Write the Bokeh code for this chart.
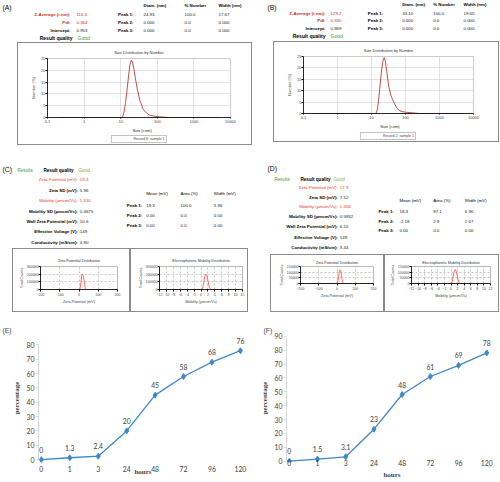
from bokeh.plotting import figure
from bokeh.models import (Range1d, FixedTicker, PrintfTickFormatter, Legend, LegendItem, Spacer)
from bokeh.layouts import row, column
from bokeh.embed import file_html
from bokeh.resources import INLINE
from bokeh.core.properties import value

# ---------------- data ----------------
# (A)/(B) size distribution by number
size_A_nm = [0.2, 11, 12, 13.5, 15, 16.5, 18, 19.5, 21, 23, 25, 28, 33, 41, 50, 62, 80, 115, 200, 5000]
size_A_pct = [0, 0, 1.5, 6, 12, 18, 22.5, 24.3, 23.5, 20.5, 17, 12.5, 7.5, 3.5, 2, 1, 0.6, 0.3, 0, 0]
size_B_nm = [0.2, 13.5, 15, 16.5, 18, 20, 22, 23.5, 25.5, 28, 32, 37, 45, 55, 65, 80, 110, 160, 250, 5000]
size_B_pct = [0, 0, 2, 7, 13, 19.5, 23.5, 24.5, 23, 18.5, 12, 8, 5, 2.5, 1.3, 0.8, 0.5, 0.3, 0, 0]

size_info_labels = ["Z-Average (r.nm):", "PdI:", "Intercept:"]
A_info_values = ["116.6", "0.364", "0.953"]
B_info_values = ["129.2", "0.330", "0.969"]
size_peak_headers = ["Diam. (nm)", "% Number", "Width (nm)"]
peak_labels = ["Peak 1:", "Peak 2:", "Peak 3:"]
A_peak_diam = ["24.93", "0.000", "0.000"]
A_peak_number = ["100.0", "0.0", "0.0"]
A_peak_width = ["17.67", "0.000", "0.000"]
B_peak_diam = ["33.10", "0.000", "0.000"]
B_peak_number = ["100.0", "0.0", "0.0"]
B_peak_width = ["19.65", "0.000", "0.000"]

# (C)/(D) zeta potential
zeta_info_labels = ["Zeta Potential (mV):", "Zeta SD (mV):", "Mobility (µmcm/Vs):",
                    "Mobility SD (µmcm/Vs):", "Wall Zeta Potential (mV):",
                    "Effective Voltage (V):", "Conductivity (mS/cm):"]
C_info_values = ["19.3", "5.96", "1.510", "0.4675", "10.6", "149", "4.80"]
D_info_values = ["17.9", "7.52", "1.406", "0.5832", "6.10", "149", "3.44"]
zeta_peak_headers = ["Mean (mV)", "Area (%)", "Width (mV)"]
C_peak_mean = ["19.3", "0.00", "0.00"]
C_peak_area = ["100.0", "0.0", "0.0"]
C_peak_width = ["5.96", "0.00", "0.00"]
D_peak_mean = ["18.3", "-2.18", "0.00"]
D_peak_area = ["97.1", "2.9", "0.0"]
D_peak_width = ["6.96", "2.67", "0.00"]

zeta_C_mV = [-150, 2, 6, 10, 14, 18, 22, 26, 30, 34, 38, 150]
zeta_C_counts = [0, 0, 20000, 90000, 175000, 200000, 185000, 120000, 50000, 10000, 0, 0]
mob_C = [-11, 0.2, 0.5, 0.8, 1.1, 1.4, 1.7, 2.0, 2.3, 2.6, 2.9, 11]
mob_C_counts = [0, 0, 20000, 90000, 175000, 200000, 185000, 120000, 50000, 10000, 0, 0]
zeta_D_mV = [-150, -4, -2, 0, 4, 8, 12, 16, 20, 24, 28, 32, 36, 40, 150]
zeta_D_counts = [0, 0, 3000, 0, 10000, 50000, 100000, 122000, 115000, 80000, 35000, 10000, 2000, 0, 0]
mob_D = [-11, -0.3, -0.17, 0, 0.3, 0.6, 0.9, 1.2, 1.5, 1.8, 2.1, 2.4, 2.7, 3.0, 11]
mob_D_counts = [0, 0, 3000, 0, 10000, 50000, 100000, 122000, 115000, 80000, 35000, 10000, 2000, 0, 0]

# (E)/(F) release
hours_labels = ["0", "1", "3", "24", "48", "72", "96", "120"]
release_E = [0, 1.3, 2.4, 20, 45, 58, 68, 76]
release_F = [0, 1.5, 3.1, 23, 48, 61, 69, 78]

# ---------------- styles ----------------
FONT = "Liberation Sans"
SERIF = "Liberation Serif"
RED = "#c8302a"
BRIGHT_RED = "#e83a30"
GREEN = "#3c9a3c"
LIGHT_GREEN = "#7ab648"
CURVE_RED = "#b83c3c"
ZETA_RED = "#ff4a4a"
BLUE = "#3f88c8"
BOX_CSS = ":host { box-shadow: inset 0 0 0 1px #8c8c8c; }"
FS = "4.4px"


def blank(w, h, xr, yr, fill="white"):
    p = figure(width=w, height=h, x_range=Range1d(*xr), y_range=Range1d(*yr),
               output_backend="svg", toolbar_location=None,
               x_axis_location=None, y_axis_location=None, min_border=0,
               border_fill_color=fill, background_fill_color=fill)
    p.grid.visible = False
    p.outline_line_color = None
    return p


def txt(p, xs, ys, texts, size, color="#000000", bold=False, align="left", font=FONT):
    p.text(x=xs, y=ys, text=texts, text_font=value(font), text_font_size=size,
           text_color=color, text_font_style="bold" if bold else "normal",
           text_align=align, text_baseline="middle")


def size_header(p, tag, tag_xy, lab_r, val_l, row_ys, rq_r, rq_y, peak_r, col_ls, head_y,
                info_vals, pk_cols):
    txt(p, [tag_xy[0]], [tag_xy[1]], [tag], "6.8px")
    txt(p, [lab_r] * 2, row_ys[:2], size_info_labels[:2], FS, color=RED, bold=True, align="right")
    txt(p, [lab_r], row_ys[2:], size_info_labels[2:], FS, bold=True, align="right")
    txt(p, [val_l] * 2, row_ys[:2], info_vals[:2], FS, color=RED)
    txt(p, [val_l], row_ys[2:], info_vals[2:], FS, color="#222222")
    txt(p, [rq_r], [rq_y], ["Result quality"], "5px", bold=True, align="right")
    txt(p, [rq_r + 5], [rq_y], ["Good"], "5px", color=GREEN)
    txt(p, [peak_r] * 3, row_ys, peak_labels, FS, bold=True, align="right")
    txt(p, col_ls, [head_y] * 3, size_peak_headers, FS, bold=True)
    for cl, col in zip(col_ls, pk_cols):
        txt(p, [cl] * 3, row_ys, col, FS, color="#222222")


def zeta_header(p, tag, tag_xy, res_xy, rq_l, good_l, lab_r, val_l, row_ys, peak_r, peak_ys,
                col_ls, head_y, info_vals, pk_cols):
    txt(p, [tag_xy[0]], [tag_xy[1]], [tag], "6.8px")
    txt(p, [res_xy[0]], [res_xy[1]], ["Results"], "4.6px", color=GREEN)
    txt(p, [rq_l], [res_xy[1]], ["Result quality"], "4.6px", bold=True)
    txt(p, [good_l], [res_xy[1]], ["Good"], "4.6px", color=LIGHT_GREEN)
    red_i = [0, 2]
    blk_i = [1, 3, 4, 5, 6]
    txt(p, [lab_r] * 2, [row_ys[i] for i in red_i], [zeta_info_labels[i] for i in red_i],
        FS, color=BRIGHT_RED, align="right")
    txt(p, [val_l] * 2, [row_ys[i] for i in red_i], [info_vals[i] for i in red_i],
        FS, color=BRIGHT_RED)
    txt(p, [lab_r] * 5, [row_ys[i] for i in blk_i], [zeta_info_labels[i] for i in blk_i],
        FS, bold=True, align="right")
    txt(p, [val_l] * 5, [row_ys[i] for i in blk_i], [info_vals[i] for i in blk_i],
        FS, color="#222222")
    txt(p, col_ls, [head_y] * 3, zeta_peak_headers, FS)
    txt(p, [peak_r] * 3, peak_ys, peak_labels, FS, bold=True, align="right")
    for cl, col in zip(col_ls, pk_cols):
        txt(p, [cl] * 3, peak_ys, col, FS, color="#222222")


def style_small_axes(p, fs_tick, fs_lab):
    for ax in list(p.xaxis) + list(p.yaxis):
        ax.major_label_text_font_size = fs_tick
        ax.major_label_text_font = FONT
        ax.axis_label_text_font_size = fs_lab
        ax.axis_label_text_font_style = "normal"
        ax.axis_label_text_font = FONT
        ax.major_tick_out = 2
        ax.major_tick_in = 0
        ax.minor_tick_out = 0
        ax.minor_tick_in = 0
        ax.major_label_standoff = 1
        ax.axis_label_standoff = 1
        ax.axis_line_color = "#000000"
        ax.axis_line_width = 0.8
    for ax in p.yaxis:
        ax.major_label_standoff = 0
        ax.axis_label_standoff = 0


def fixed(w, h, mb, **kw):
    return figure(width=w, height=h, output_backend="svg", toolbar_location=None,
                  min_border_left=mb[0], min_border_right=mb[1], min_border_top=mb[2],
                  min_border_bottom=mb[3], **kw)


def size_box(w, h, mb, strip_h, xs, ys, legend_text, title_standoff):
    p = fixed(w, h, mb, x_axis_type="log", x_range=Range1d(0.1, 10000),
              y_range=Range1d(0, 25), border_fill_color=None,
              title="Size Distribution by Number")
    p.title.align = "center"
    p.title.text_font_size = "4px"
    p.title.text_font_style = "normal"
    p.title.text_font = FONT
    p.title.text_color = "#333333"
    p.title.standoff = title_standoff
    p.outline_line_color = "#cccccc"
    p.xaxis.ticker = FixedTicker(ticks=[0.1, 1, 10, 100, 1000, 10000])
    p.xaxis.formatter = PrintfTickFormatter(format="%g")
    p.yaxis.ticker = FixedTicker(ticks=[0, 5, 10, 15, 20, 25])
    p.yaxis.axis_label = "Number (%)"
    style_small_axes(p, "4px", "4px")
    p.xaxis.major_tick_out = 1
    p.yaxis.axis_label_standoff = 2
    p.grid.grid_line_color = "#d4d4d4"
    p.grid.grid_line_width = 0.7
    p.line(xs, ys, line_color=CURVE_RED, line_width=0.9)
    # strip under the plot: x-axis title and the legend
    s = blank(w, strip_h, (0, w), (strip_h, 0), fill=None)
    txt(s, [mb[0] + (w - mb[0] - mb[1]) / 2], [2.5], ["Size (r.nm)"], "4px",
        color="#222222", align="center")
    r = s.line(x=[], y=[], line_color=CURVE_RED, line_width=0.9)
    leg = Legend(items=[LegendItem(label=legend_text, renderers=[r])], location="bottom_center",
                 orientation="horizontal", label_text_font_size="3.6px",
                 label_text_font=FONT, label_text_color="#444444",
                 glyph_width=18, glyph_height=4, label_height=4,
                 label_standoff=3, padding=1, margin=2, spacing=0,
                 border_line_color="#888888", border_line_width=0.7)
    s.add_layout(leg)
    return column(p, s, stylesheets=[BOX_CSS])


def zeta_plot(w, h, mb, xs, ys, xr, xticks, yr, yticks, title, xlabel, title_standoff):
    p = fixed(w, h, mb, x_range=Range1d(*xr), y_range=Range1d(*yr),
              border_fill_color=None, title=title)
    p.stylesheets = [BOX_CSS]
    p.title.align = "center"
    p.title.text_font_size = "3.7px"
    p.title.text_font_style = "normal"
    p.title.text_font = FONT
    p.title.text_color = "#333333"
    p.title.standoff = title_standoff
    p.outline_line_color = "#bbbbbb"
    p.xaxis.ticker = FixedTicker(ticks=xticks)
    p.yaxis.ticker = FixedTicker(ticks=yticks)
    p.yaxis.formatter = PrintfTickFormatter(format="%d")
    p.xaxis.axis_label = xlabel
    p.yaxis.axis_label = "Total Counts"
    style_small_axes(p, "3.5px", "3.7px")
    p.grid.grid_line_color = "#9a9a9a"
    p.grid.grid_line_dash = "2 2"
    p.grid.grid_line_width = 0.6
    p.line(xs, ys, line_color=ZETA_RED, line_width=0.8)
    return p


def release_plot(vals, w, h, xend, yr, ybound, mb, tag, tag_offset, lab_standoff, hours_standoff):
    idx = list(range(len(hours_labels)))
    p = fixed(w, h, mb, x_range=Range1d(-0.1, xend), y_range=Range1d(*yr), title=tag)
    p.title.align = "left"
    p.title.offset = tag_offset
    p.title.standoff = 0
    p.title.text_font = FONT
    p.title.text_font_size = "6.8px"
    p.title.text_font_style = "normal"
    p.grid.visible = False
    p.outline_line_color = None
    p.line(idx, vals, line_color=BLUE, line_width=1.3)
    p.scatter(idx, vals, marker="diamond", size=6, color=BLUE)
    p.text(idx, vals, text=[f"{v:g}" for v in vals], text_font=value("Lato"),
           text_font_size="6.8px", text_color="#404040", text_align="center",
           text_baseline="middle", y_offset=-10)
    xa = p.xaxis[0]
    xa.ticker = FixedTicker(ticks=idx)
    xa.major_label_overrides = {i: lab for i, lab in zip(idx, hours_labels)}
    xa.axis_line_color = None
    xa.major_tick_line_color = None
    xa.minor_tick_line_color = None
    xa.major_tick_out = 0
    xa.major_tick_in = 0
    xa.minor_tick_out = 0
    xa.minor_tick_in = 0
    xa.major_label_standoff = lab_standoff
    xa.major_label_text_font = "Lato"
    xa.major_label_text_font_size = "6.8px"
    xa.major_label_text_color = "#404040"
    xa.axis_label = "hours"
    xa.axis_label_text_font = SERIF
    xa.axis_label_text_font_style = "bold"
    xa.axis_label_text_font_size = "7px"
    xa.axis_label_standoff = hours_standoff
    ya = p.yaxis[0]
    ya.ticker = FixedTicker(ticks=list(range(0, ybound + 1, 10)))
    ya.bounds = (0, ybound)
    ya.axis_line_color = "#d9d9d9"
    ya.major_tick_line_color = "#d9d9d9"
    ya.major_tick_out = 3
    ya.major_tick_in = 0
    ya.minor_tick_line_color = None
    ya.minor_tick_out = 0
    ya.minor_tick_in = 0
    ya.major_label_standoff = 1
    ya.major_label_text_font = "Lato"
    ya.major_label_text_font_size = "6.8px"
    ya.major_label_text_color = "#404040"
    ya.axis_label = "percentage"
    ya.axis_label_text_font = SERIF
    ya.axis_label_text_font_style = "bold"
    ya.axis_label_text_font_size = "7px"
    ya.axis_label_standoff = 3
    return p


# ---------------- row 1: (A) (B) ----------------
hAB = blank(500, 41, (0, 500), (41, 0))
size_header(hAB, "(A)", (2, 6.7), 70, 76, [14.2, 22, 30.2], 72, 37.6, 133, [143, 184, 218], 5.3,
            A_info_values, [A_peak_diam, A_peak_number, A_peak_width])
size_header(hAB, "(B)", (267, 6.7), 325, 330, [12.7, 20.2, 28.3], 325, 35.7, 382.7,
            [401.7, 432.7, 463], 4.3, B_info_values, [B_peak_diam, B_peak_number, B_peak_width])

boxA = size_box(235, 85, (30, 22, 16, 10), 18, size_A_nm, size_A_pct, "Record 6: sample 1", 8)
boxB = size_box(226, 82, (30, 26, 15, 10), 19, size_B_nm, size_B_pct, "Record 2: sample 1", 7)
row1 = column(hAB, row(Spacer(width=17, height=104),
                       column(Spacer(width=235, height=1), boxA),
                       Spacer(width=21, height=104),
                       column(boxB, Spacer(width=226, height=3))))

# ---------------- row 2: (C) (D) ----------------
hC = blank(250, 103, (0, 250), (248, 145))
zeta_header(hC, "(C)", (2, 169.3), (17, 170), 43, 78, 77.3, 79.3,
            [179.3, 190, 200.3, 210.7, 221, 231.3, 241.7], 141.7, [205, 215.3, 225.3],
            [145.7, 180, 213.3], 192.7, C_info_values, [C_peak_mean, C_peak_area, C_peak_width])
hD = blank(250, 109, (250, 500), (254, 145))
zeta_header(hD, "(D)", (267, 167.7), (274, 178.7), 300, 333, 337.3, 339.3,
            [187, 197.3, 206.3, 216, 226, 236.7, 247], 393.3, [211, 220.7, 230.3],
            [399, 432.7, 464.3], 200, D_info_values, [D_peak_mean, D_peak_area, D_peak_width])

zC = zeta_plot(118, 64, (28, 13, 18, 23), zeta_C_mV, zeta_C_counts, (-200, 200),
               [-200, -100, 0, 100, 200], (0, 300000), [0, 100000, 200000, 300000],
               "Zeta Potential Distribution", "Zeta Potential (mV)", 7)
mC = zeta_plot(118, 64, (29, 6, 18, 23), mob_C, mob_C_counts, (-12, 12),
               list(range(-12, 13, 2)), (0, 300000), [0, 100000, 200000, 300000],
               "Electrophoretic Mobility Distribution", "Mobility (µmcm/Vs)", 7)
zD = zeta_plot(114, 58, (30, 11, 12, 29), zeta_D_mV, zeta_D_counts, (-200, 200),
               [-200, -100, 0, 100, 200], (0, 150000), [0, 50000, 100000, 150000],
               "Zeta Potential Distribution", "Zeta Potential (mV)", 3)
mD = zeta_plot(115, 58, (27, 9, 12, 29), mob_D, mob_D_counts, (-12, 12),
               list(range(-12, 13, 2)), (0, 150000), [0, 50000, 100000, 150000],
               "Electrophoretic Mobility Distribution", "Mobility (µmcm/Vs)", 3)
colC = column(hC, row(Spacer(width=12, height=64), zC, mC))
colD = column(hD, row(Spacer(width=20, height=58), zD, mD))
row2 = row(colC, colD)

# ---------------- row 3: (E) (F) ----------------
pE = release_plot(release_E, 250, 170, 7.25, (-2, 88), 80, (38, 3, 18, 17), "(E)", -36, 3, -7)
pF = release_plot(release_F, 250, 170, 7.38, (-1, 92), 90, (36, 3, 21, 20), "(F)", -23, -3, 2)
row3 = row(pE, pF)

layout = column(row1, row2, row3)
open("out.html", "w").write(file_html(layout, INLINE))
